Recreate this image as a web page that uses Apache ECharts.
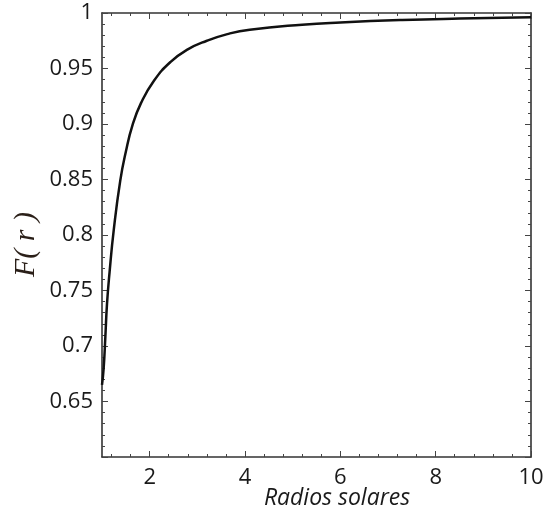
<!DOCTYPE html>
<html>
<head>
<meta charset="utf-8">
<script src="https://cdn.jsdelivr.net/npm/echarts@6/dist/echarts.min.js"></script>
<style>html,body{margin:0;padding:0;background:#fff}#c{width:543px;height:510px}</style>
</head>
<body>
<div id="c"></div>
<script>
// Data
const radii = [1.0, 1.035, 1.07, 1.105, 1.16, 1.245, 1.383, 1.5, 1.64, 1.82, 2.09, 2.44, 2.79, 3.2, 3.63, 4.1, 5.2, 6.0, 7.3, 8.5, 10.0];
const fValues = [0.665, 0.68, 0.708, 0.738, 0.767, 0.804, 0.849, 0.875, 0.899, 0.919, 0.939, 0.956, 0.967, 0.975, 0.981, 0.985, 0.9895, 0.9915, 0.9937, 0.995, 0.9962];
const xTickLabels = [2, 4, 6, 8, 10];
const yTickLabels = ['0.65', '0.7', '0.75', '0.8', '0.85', '0.9', '0.95', '1'];
const xTitle = 'Radios solares';
const yTitle = 'F( r )';

const xMinor = [];
for (let v = 1.2; v < 10; v += 0.4) {
  const r = Math.round(v * 10) / 10;
  if (Math.abs(r / 2 - Math.round(r / 2)) > 1e-6) xMinor.push(r);
}

const lineCol = '#333';
const tickCol = '#444';
const font = 'Open Sans';

function xAx(pos, vals, len, showLine, labels) {
  return {
    type: 'value', position: pos, min: 1, max: 10,
    axisLine: { show: showLine, onZero: false, lineStyle: { color: lineCol, width: 1.6 } },
    axisTick: { show: true, inside: true, length: len, customValues: vals, lineStyle: { color: tickCol, width: 1 } },
    axisLabel: labels ? { show: true, customValues: xTickLabels, margin: 10, fontFamily: font, fontSize: 22, color: '#1a1a1a' } : { show: false },
    splitLine: { show: false }
  };
}
function yAx(pos, labels) {
  return {
    type: 'value', position: pos, min: 0.6, max: 1, interval: 0.05,
    axisLine: { show: true, onZero: false, lineStyle: { color: lineCol, width: 1.6 } },
    axisTick: { show: true, inside: true, length: 6, lineStyle: { color: tickCol, width: 1 } },
    minorTick: { show: true, splitNumber: 5, length: 3, lineStyle: { color: tickCol, width: 1 } },
    axisLabel: labels ? {
      show: true, margin: 9, fontFamily: font, fontSize: 22, color: '#1a1a1a',
      formatter: function (v) { const s = String(Math.round(v * 100) / 100); return yTickLabels.indexOf(s) >= 0 ? s : ''; }
    } : { show: false },
    splitLine: { show: false }
  };
}

const chart = echarts.init(document.getElementById('c'), null, { renderer: 'canvas' });
chart.setOption({
  animation: false,
  backgroundColor: '#fff',
  grid: { left: 102, right: 12, top: 13, bottom: 53, containLabel: false, outerBoundsMode: 'none' },
  xAxis: [
    xAx('bottom', xTickLabels, 6, true, true),
    xAx('bottom', xMinor, 3, false, false),
    xAx('top', xTickLabels, 6, true, false),
    xAx('top', xMinor, 3, false, false)
  ],
  yAxis: [yAx('left', true), yAx('right', false)],
  graphic: [{
    type: 'text', left: 11, top: 212, rotation: Math.PI / 2,
    style: { text: yTitle, fontFamily: 'Liberation Serif', fontStyle: 'italic', fontSize: 30, fill: '#2a1f18' }
  }, {
    type: 'text', x: 337, y: 498,
    style: { text: xTitle, fontFamily: font, fontStyle: 'italic', fontSize: 23, fill: '#1a1a1a', align: 'center', verticalAlign: 'middle' }
  }],
  series: [{
    type: 'line', xAxisIndex: 0, yAxisIndex: 0, smooth: true, showSymbol: false,
    lineStyle: { color: '#111', width: 2.5 },
    data: radii.map((r, i) => [r, fValues[i]])
  }]
});
</script>
</body>
</html>
